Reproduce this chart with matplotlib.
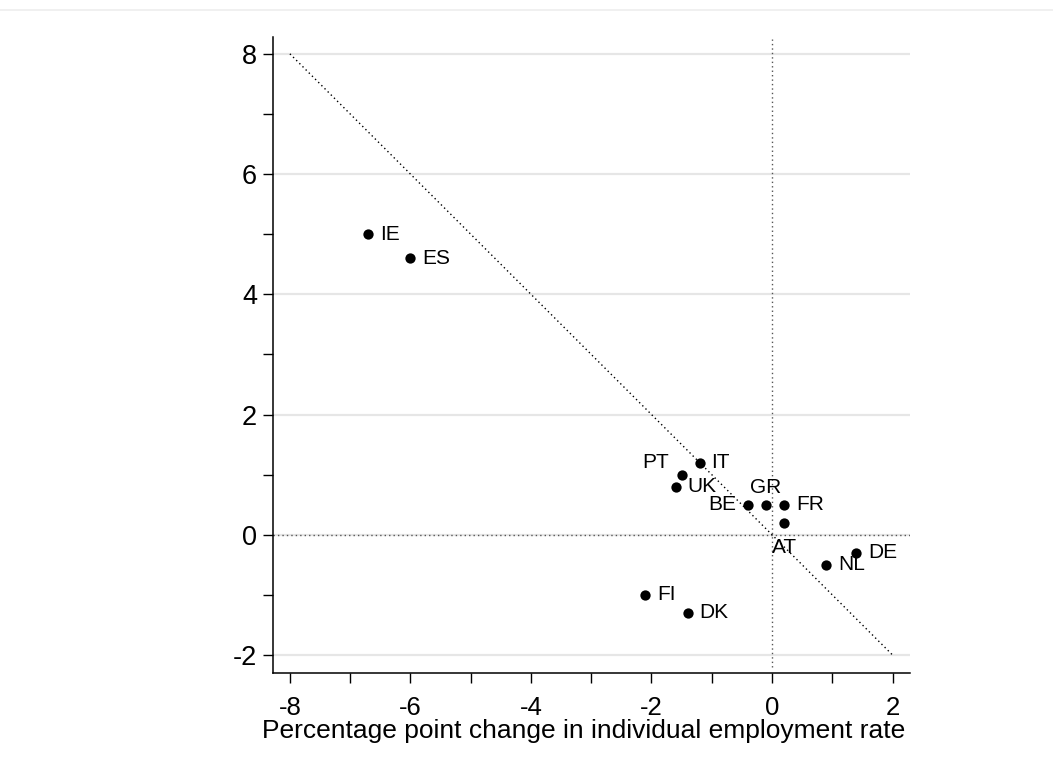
import numpy as np
import matplotlib
matplotlib.use("Agg")
import matplotlib.pyplot as plt
from matplotlib.lines import Line2D

# country codes and values
countries = ['IE', 'ES', 'PT', 'IT', 'UK', 'BE', 'GR', 'FR', 'AT', 'DE', 'NL', 'FI', 'DK']
emp_change = [-6.7, -6.0, -1.5, -1.2, -1.6, -0.4, -0.1, 0.2, 0.2, 1.4, 0.9, -2.1, -1.4]
other_change = [5.0, 4.6, 1.0, 1.2, 0.8, 0.5, 0.5, 0.5, 0.2, -0.3, -0.5, -1.0, -1.3]

diag_x = [-8, 2]
diag_y = [8, -2]

x_ticks = [-8, -6, -4, -2, 0, 2]
y_ticks = [-2, 0, 2, 4, 6, 8]

plt.rcParams['font.family'] = ['Liberation Sans', 'DejaVu Sans']
plt.rcParams['axes.unicode_minus'] = False

fig = plt.figure(figsize=(10.53, 7.71), dpi=100)
ax = fig.add_axes([0.2593, 0.1271, 0.6049, 0.8249])

ax.set_xlim(-8.28, 2.29)
ax.set_ylim(-2.3, 8.28)

# grid on major y ticks
for yv in y_ticks:
    ax.axhline(yv, color='#e6e6e6', lw=1.6, zorder=0)

dots = (0, (1, 2.2))
ax.axhline(0, color='#555555', lw=1.0, ls=dots, zorder=1)
ax.plot([0, 0], [-2.2, 8.24], color='#555555', lw=1.0, ls=dots, zorder=1)
ax.plot(diag_x, diag_y, color='black', lw=1.0, ls=dots, zorder=1)

ax.scatter(emp_change, other_change, s=55, color='black', zorder=3, linewidths=0)

# label placement, offset in points (dx, dy) and alignment
pos = {
    'PT': (-9.0, 8.4, 'right'),
    'BE': (-8.5, 0, 'right'),
    'GR': (0, 12.7, 'center'),
    'AT': (0, -18, 'center'),
}
for c, xv, yv in zip(countries, emp_change, other_change):
    dx, dy, ha = pos.get(c, (8.5, 0, 'left'))
    ax.annotate(c, (xv, yv), xytext=(dx, dy), textcoords='offset points',
                ha=ha, va='center', fontsize=15, zorder=4)

ax.set_xticks(x_ticks)
ax.set_yticks(y_ticks)
ax.set_xticks([-7, -5, -3, -1, 1], minor=True)
ax.set_yticks([-1, 1, 3, 5, 7], minor=True)
ax.tick_params(axis='both', which='both', length=7.5, width=1.0)
ax.tick_params(axis='y', pad=4, labelsize=19.5)
ax.tick_params(axis='x', pad=9, labelsize=18.5)

for side in ['top', 'right']:
    ax.spines[side].set_visible(False)
for side in ['left', 'bottom']:
    ax.spines[side].set_linewidth(1.1)

fig.text(584 / 1053, 1 - 738 / 771, 'Percentage point change in individual employment rate',
         fontsize=19, ha='center', va='baseline')

# faint frame line at the top of the image
fig.add_artist(Line2D([0, 1], [1 - 9.5 / 771] * 2, color='#eeeeee', lw=1.2))

fig.savefig('out.png', dpi=100)
